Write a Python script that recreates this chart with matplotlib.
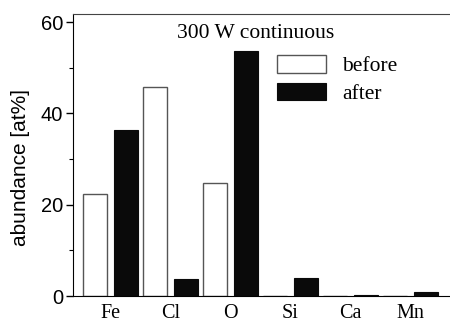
import matplotlib
matplotlib.use("Agg")
import matplotlib.pyplot as plt
import numpy as np
from matplotlib.ticker import MultipleLocator

elements = ["Fe", "Cl", "O", "Si", "Ca", "Mn"]
before = [22.3, 45.8, 24.8, 0.0, 0.0, 0.0]
after = [36.4, 3.7, 53.7, 3.9, 0.3, 0.9]

fig = plt.figure(figsize=(4.5, 3.25), dpi=100)
ax = fig.add_axes([0.1622, 0.0892, 0.8378, 0.8677])

x = np.arange(len(elements))
w = 0.4
off = 0.26
ax.bar(x - off, before, w, facecolor="white", edgecolor="#555555", linewidth=1.0, label="before")
ax.bar(x + off, after, w, facecolor="#0a0a0a", edgecolor="#0a0a0a", linewidth=0.8, label="after")

ax.set_xlim(-0.625, 5.66)
ax.set_ylim(0, 61.8)
ax.set_xticks(x)
ax.set_xticklabels(elements, family="Liberation Serif", fontsize=14.5)
ax.tick_params(axis="x", length=0, pad=6)
ax.yaxis.set_major_locator(MultipleLocator(20))
ax.yaxis.set_minor_locator(MultipleLocator(10))
ax.tick_params(axis="y", which="major", length=5, width=1, direction="out", labelsize=14.5, pad=2)
ax.tick_params(axis="y", which="minor", length=3, width=0.8, direction="out")
for lab in ax.get_yticklabels():
    lab.set_family("Liberation Sans")
ax.set_ylabel("abundance [at%]", family="Liberation Sans", fontsize=15)
ax.yaxis.set_label_coords(-0.115, 0.455)

ax.spines["right"].set_visible(False)
ax.spines["top"].set_color("#444444")
ax.spines["left"].set_color("black")
ax.spines["bottom"].set_color("black")

fig.text(256/450, 1 - 33/325, "300 W continuous", family="Liberation Serif", fontsize=15.5,
         ha="center", va="center")

fs = 15.5
fpx = fs * 100 / 72
ax.legend(loc="upper left", bbox_to_anchor=(277/450, 1 - 55/325), bbox_transform=fig.transFigure,
          frameon=False, borderpad=0, borderaxespad=0, handlelength=49/fpx, handleheight=19/fpx,
          handletextpad=16/fpx, labelspacing=0.3, prop={"family": "Liberation Serif", "size": fs})

fig.savefig("out.png", dpi=100)
